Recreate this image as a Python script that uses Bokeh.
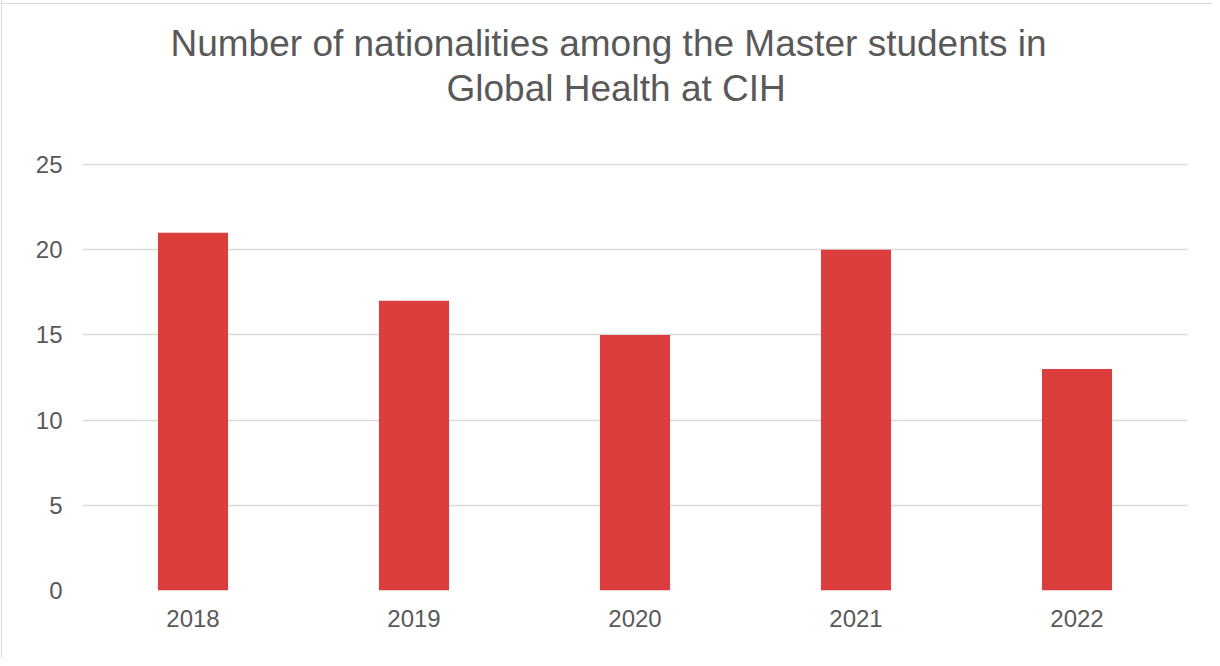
from bokeh.plotting import figure
from bokeh.models import FixedTicker, Title, Range1d, FactorRange
from bokeh.embed import file_html
from bokeh.resources import INLINE

years = ["2018", "2019", "2020", "2021", "2022"]
nationalities = [21, 17, 15, 20, 13]
y_ticks = [0, 5, 10, 15, 20, 25]

TXT = "#595959"
GRID = "#d9d9d9"
BAR = "#DB3E3D"
FONT = "Liberation Sans"

p = figure(
    x_range=FactorRange(*years, range_padding=0),
    y_range=Range1d(0, 25.06),
    width=1212, height=658,
    output_backend="svg", toolbar_location=None, tools="",
    min_border_left=82, min_border_right=25, min_border_bottom=68, min_border_top=163,
)
p.title.visible = False
p.styles = {"box-shadow": "inset 1px 0 0 #ffffff, inset 2px 0 0 #d9d9d9, inset 0 3px 0 #ffffff, inset 0 4px 0 #d9d9d9"}
p.border_fill_color = None
p.background_fill_color = "white"
p.outline_line_color = None

p.vbar(x=years, top=nationalities, width=0.317, fill_color=BAR, line_color=None)

# spacer between title and plot area
p.add_layout(Title(text=" ", text_font_size="1px", standoff=52), "above")
p.add_layout(Title(text="Global Health at CIH", align="left", offset=364,
                   text_font=FONT, text_font_size="37px", text_font_style="normal",
                   text_color=TXT, standoff=0), "above")
p.add_layout(Title(text="Number of nationalities among the Master students in", align="left", offset=88,
                   text_font=FONT, text_font_size="37px", text_font_style="normal",
                   text_color=TXT, standoff=4), "above")

p.xgrid.grid_line_color = None
p.ygrid.grid_line_color = GRID
p.ygrid.grid_line_width = 1.5
p.yaxis.ticker = FixedTicker(ticks=y_ticks)

for ax in (p.xaxis, p.yaxis):
    ax.axis_line_color = None
    ax.major_tick_line_color = None
    ax.minor_tick_line_color = None
    ax.major_tick_out = 0
    ax.major_tick_in = 0
    ax.major_label_text_font = FONT
    ax.major_label_text_font_size = "24px"
    ax.major_label_text_color = TXT

p.yaxis.major_label_standoff = 20
p.xaxis.major_label_standoff = 19

open("out.html", "w").write(file_html(p, INLINE))
